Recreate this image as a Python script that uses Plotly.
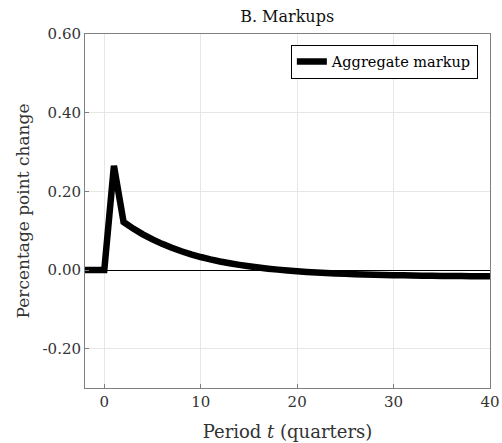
import plotly.graph_objects as go

periods = list(range(-2, 41))
markup = [0.0, 0.0, 0.0, 0.265, 0.122,
          0.1053, 0.0906, 0.0777, 0.0664, 0.0564, 0.0476, 0.0398, 0.0330,
          0.0270, 0.0217, 0.0171, 0.0130, 0.0094, 0.0062, 0.0034, 0.0010,
          -0.0012, -0.0031, -0.0048, -0.0062, -0.0075, -0.0087, -0.0097, -0.0105,
          -0.0113, -0.0120, -0.0126, -0.0131, -0.0136, -0.0140, -0.0144, -0.0147,
          -0.0150, -0.0152, -0.0154, -0.0156, -0.0158, -0.0159]

xticks = [0, 10, 20, 30, 40]
yticks = [-0.2, 0.0, 0.2, 0.4, 0.6]
yticklabels = ["-0.20", "0.00", "0.20", "0.40", "0.60"]

font = "'DejaVu Serif', 'Liberation Serif', serif"

fig = go.Figure()
fig.add_trace(go.Scatter(x=periods, y=markup, mode="lines", name="Aggregate markup",
                         line=dict(color="black", width=6.5, simplify=False), cliponaxis=False))

axis_common = dict(showline=True, linecolor="#808080", linewidth=1, mirror=True,
                   showgrid=True, gridcolor="#e6e6e6", gridwidth=1,
                   ticks="inside", ticklen=4, tickcolor="#808080", automargin=False,
                   tickfont=dict(family=font, size=15, color="#333333"))

fig.update_xaxes(range=[-2, 40], tickvals=xticks, zeroline=False,
                 title=dict(text="Period <i>t</i> (quarters)", font=dict(family=font, size=18, color="#333333"), standoff=15),
                 **axis_common)
fig.update_yaxes(range=[-0.3, 0.6], tickvals=yticks, ticktext=yticklabels,
                 zeroline=True, zerolinecolor="black", zerolinewidth=1.3,
                 title=dict(text="Percentage point change", font=dict(family=font, size=17, color="#333333"), standoff=8),
                 **axis_common)

fig.update_layout(
    width=502, height=443,
    margin=dict(l=85, r=12, t=34, b=55),
    plot_bgcolor="white", paper_bgcolor="white",
    title=dict(text="B. Markups", x=0.572, xanchor="center", y=0.975, yanchor="top",
               font=dict(family=font, size=16, color="#111111")),
    legend=dict(x=0.97, y=0.97, xanchor="right", yanchor="top",
                bordercolor="black", borderwidth=1, bgcolor="white",
                font=dict(family=font, size=14.5, color="black")),
    showlegend=True,
)

fig.write_html("out.html")
